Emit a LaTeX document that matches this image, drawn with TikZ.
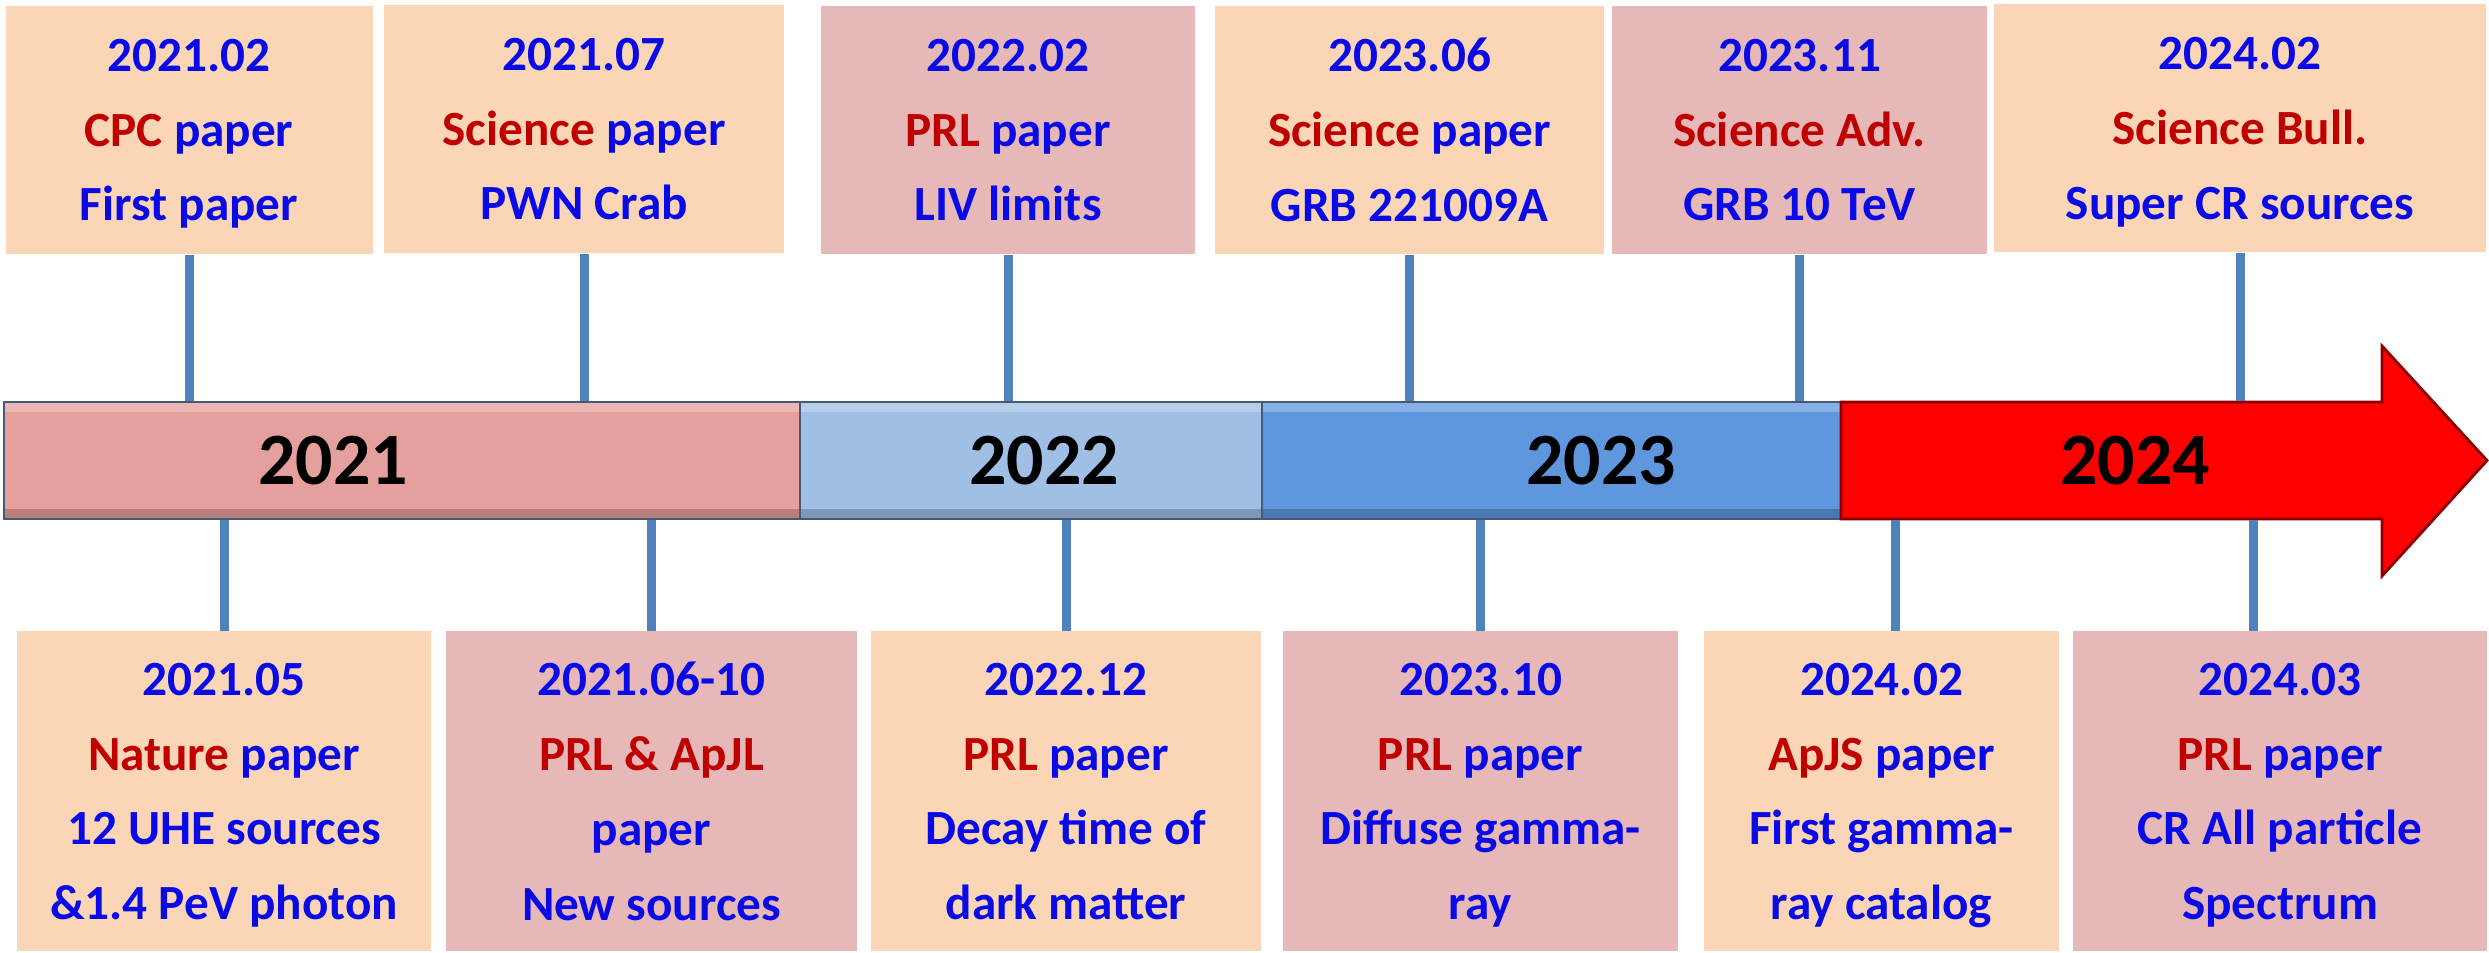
\documentclass[tikz,border=0pt]{standalone}
\usepackage{fontspec}
\setmainfont{Carlito}
\usetikzlibrary{positioning, calc}

\definecolor{peach}{RGB}{250,214,183}
\definecolor{rose}{RGB}{230,185,184}
\definecolor{dblue}{RGB}{10,10,230}
\definecolor{dred}{RGB}{192,0,0}
\definecolor{stemblue}{RGB}{79,129,189}
\definecolor{c2021}{RGB}{229,160,158}
\definecolor{c2022}{RGB}{160,191,229}
\definecolor{c2023}{RGB}{94,151,222}
\definecolor{c2024}{RGB}{255,0,0}
\definecolor{rim}{RGB}{70,90,115}

\newcommand{\jnl}[1]{\textcolor{dred}{#1}}

\tikzset{
  evt/.style={rectangle, inner sep=0pt, align=center, text=dblue, text depth=-0.05cm,
    font=\bfseries\fontsize{14}{21.3}\selectfont},
  evtop/.style={evt, minimum height=2.48cm},
  evbot/.style={evt, minimum height=3.2cm, anchor=south},
  seg/.style={rectangle, draw=rim, line width=0.8pt, minimum height=1.17cm, inner sep=0pt,
    path picture={
      \fill[white, opacity=0.25] (path picture bounding box.north west) rectangle ([yshift=-0.1cm]path picture bounding box.north east);
      \fill[black, opacity=0.2] (path picture bounding box.south west) rectangle ([yshift=0.1cm]path picture bounding box.south east);
    }},
  year/.style={font=\bfseries\fontsize{21}{24}\selectfont, text=black},
  stem/.style={draw=stemblue, line width=0.09cm}
}

\begin{document}
\begin{tikzpicture}
      \useasboundingbox (0,0) rectangle (24.89,9.52);

      % Events above the time line
      \node[evtop, fill=peach, minimum width=3.67cm] (t1) at (1.89,8.22) {2021.02\\ \jnl{CPC} paper\\ First paper};
      \node[evtop, fill=peach, minimum width=4.00cm] (t2) at (5.84,8.23) {2021.07\\ \jnl{Science} paper\\ PWN Crab};
      \node[evtop, fill=rose, minimum width=3.74cm] (t3) at (10.08,8.22) {2022.02\\ \jnl{PRL} paper\\ LIV limits};
      \node[evtop, fill=peach, minimum width=3.89cm] (t4) at (14.095,8.22) {2023.06\\ \jnl{Science} paper\\ GRB 221009A};
      \node[evtop, fill=rose, minimum width=3.75cm] (t5) at (17.995,8.22) {2023.11\\ \jnl{Science Adv.}\\ GRB 10 TeV};
      \node[evtop, fill=peach, minimum width=4.92cm] (t6) at (22.40,8.235) {2024.02\\ \jnl{Science Bull.}\\ Super CR sources};

      % Events below the time line
      \node[evbot, fill=peach, minimum width=4.14cm] (b1) at (2.24,0) {2021.05\\ \jnl{Nature} paper\\ 12 UHE sources\\ \&1.4 PeV photon};
      \node[evbot, fill=rose, minimum width=4.11cm] (b2) at (6.515,0) {2021.06-10\\ \jnl{PRL \& ApJL}\\ paper\\ New sources};
      \node[evbot, fill=peach, minimum width=3.90cm] (b3) at (10.66,0) {2022.12\\ \jnl{PRL} paper\\ Decay time of\\ dark matter};
      \node[evbot, fill=rose, minimum width=3.95cm] (b4) at (14.805,0) {2023.10\\ \jnl{PRL} paper\\ Diffuse gamma-\\ ray};
      \node[evbot, fill=peach, minimum width=3.55cm] (b5) at (18.815,0) {2024.02\\ \jnl{ApJS} paper\\ First gamma-\\ ray catalog};
      \node[evbot, fill=rose, minimum width=4.14cm] (b6) at (22.80,0) {2024.03\\ \jnl{PRL} paper\\ CR All particle\\ Spectrum};

      % Year segments of the time line
      \node[seg, fill=c2021, minimum width=7.96cm] (s2021) at (4.02,4.915) {};
      \node[seg, fill=c2022, minimum width=4.62cm] (s2022) at (10.31,4.915) {};
      \node[seg, fill=c2023, minimum width=5.79cm] (s2023) at (15.515,4.915) {};
      \draw[fill=c2024, draw=red!55!black, line width=0.8pt]
          (18.41,5.50) -- (23.82,5.50) -- (23.82,6.06) -- (24.87,4.915)
          -- (23.82,3.76) -- (23.82,4.33) -- (18.41,4.33) -- cycle;

      \node[year] (yr2021) at (3.33,4.915) {2021};
      \node[year] (yr2022) at (10.44,4.915) {2022};
      \node[year] (yr2023) at (16.01,4.915) {2023};
      \node[year] (yr2024) at (21.35,4.915) {2024};

      % Stems from the boxes to the line
      \foreach \n/\s in {t1/0, t2/0, t3/0, t4/0, t5/0, t6/0} {
          \draw[stem] ([xshift=\s cm]\n.south) -- ([xshift=\s cm]\n.south |- s2022.north);
      }
      \foreach \n/\s in {b1/0, b2/0, b3/0, b4/0, b5/0.135, b6/-0.27} {
          \draw[stem] ([xshift=\s cm]\n.north) -- ([xshift=\s cm]\n.north |- s2022.south);
      }
    \end{tikzpicture}
\end{document}
